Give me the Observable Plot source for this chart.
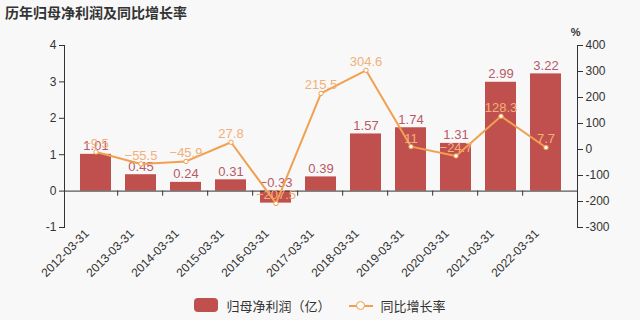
<!DOCTYPE html>
<html>
<head>
<meta charset="utf-8">
<script src="https://cdn.jsdelivr.net/npm/d3@7"></script>
<script src="https://cdn.jsdelivr.net/npm/@observablehq/plot@0.6"></script>
<style>
  html, body { margin: 0; padding: 0; background: #f8f8f8; }
  #wrap { position: relative; width: 640px; height: 320px; font-family: "Noto Sans CJK SC", "Noto Sans", sans-serif; }
  #title { position: absolute; left: 5px; top: 2px; font-size: 14px; font-weight: bold; color: #333; }
  #legend { position: absolute; left: 0; top: 293px; width: 640px; height: 24px; display: flex; justify-content: center; align-items: center; font-size: 13px; color: #333; gap: 4px; }
  .sw { display: inline-block; width: 24px; height: 14px; background: #c0504d; border-radius: 4px; margin-right: 4px; }
  .ln { display: inline-block; position: relative; width: 24px; height: 13px; margin-left: 14px; margin-right: 4px; }
  .ln::before { content: ""; position: absolute; left: 0; right: 0; top: 6px; height: 2px; background: #f0a050; }
  .ln::after { content: ""; position: absolute; left: 7px; top: 2px; width: 7px; height: 7px; border: 1.5px solid #f0a050; border-radius: 50%; background: #f8f8f8; }
</style>
</head>
<body>
<div id="wrap">
  <div id="title">历年归母净利润及同比增长率</div>
  <div id="chart"></div>
  <div id="legend"><span class="sw"></span><span>归母净利润（亿）</span><span class="ln"></span><span>同比增长率</span></div>
</div>
<script>
const years = ["2012-03-31","2013-03-31","2014-03-31","2015-03-31","2016-03-31","2017-03-31","2018-03-31","2019-03-31","2020-03-31","2021-03-31","2022-03-31"];
const profit = [1.01, 0.45, 0.24, 0.31, -0.33, 0.39, 1.57, 1.74, 1.31, 2.99, 3.22];
const growth = [-9.5, -55.5, -45.9, 27.8, -207.5, 215.5, 304.6, 11, -24.7, 128.3, 7.7];
const leftTicks = [-1, 0, 1, 2, 3, 4];
const rightTicks = [-300, -200, -100, 0, 100, 200, 300, 400];

// map right axis (-300..400) onto left axis (-1..4)
const toLeft = g => g / 140 + 8 / 7;
const fromLeft = v => (v - 8 / 7) * 140;

const data = years.map((y, i) => ({year: y, profit: profit[i], growth: growth[i]}));
const step = (640 - 64 - 63) / years.length;

const chart = Plot.plot({
  width: 640,
  height: 290,
  marginTop: 45,
  marginBottom: 63,
  marginLeft: 64,
  marginRight: 63,
  style: {background: "transparent", fontFamily: "Liberation Sans, Arial, sans-serif", fontSize: "12px", color: "#333"},
  x: {domain: years, padding: 0.31, axis: null},
  y: {domain: [-1, 4], axis: null},
  marks: [
    Plot.axisY({anchor: "left", ticks: leftTicks, tickFormat: d => String(d), tickSize: 5, tickPadding: 3, fontSize: 12, fill: "#333", stroke: "#333", label: null}),
    Plot.axisY({anchor: "right", ticks: rightTicks.map(toLeft), tickFormat: v => String(Math.round(fromLeft(v))), tickSize: 5, tickPadding: 3, fontSize: 12, fill: "#333", stroke: "#333", label: null}),
    Plot.frame({anchor: "left", stroke: "#333"}),
    Plot.frame({anchor: "right", stroke: "#333"}),
    Plot.axisX({anchor: "bottom", tickSize: 0, tickRotate: -45, tickPadding: 0, dx: -9, dy: 4, fontSize: 12, fill: "#333", label: null}),
    Plot.barY(data, {x: "year", y: "profit", fill: "#c0504d"}),
    Plot.ruleY([0], {stroke: "#333"}),
    Plot.ruleX(years.slice(1), {x: d => d, y1: 0, y2: -0.14, dx: -step / 2, stroke: "#333"}),
    Plot.text(data, {x: "year", y: d => Math.max(d.profit, 0), text: d => String(d.profit).replace("-", "−"), lineAnchor: "bottom", dy: -4, fill: "#b85868", fontSize: 13}),
    Plot.line(data, {x: "year", y: d => toLeft(d.growth), stroke: "#f0a050", strokeWidth: 2}),
    Plot.dot(data, {x: "year", y: d => toLeft(d.growth), r: 2.2, fill: "white", stroke: "#f0a050", strokeWidth: 1}),
    Plot.text(data, {x: "year", y: d => toLeft(d.growth), text: d => String(d.growth).replace("-", "−"), lineAnchor: "bottom", dy: -4, fill: "#f2b07a", fontSize: 13}),
    Plot.text(["%"], {frameAnchor: "top-right", dx: 3, dy: -17, fill: "#333", fontSize: 11, fontWeight: "bold"})
  ]
});
document.getElementById("chart").appendChild(chart);
</script>
</body>
</html>
